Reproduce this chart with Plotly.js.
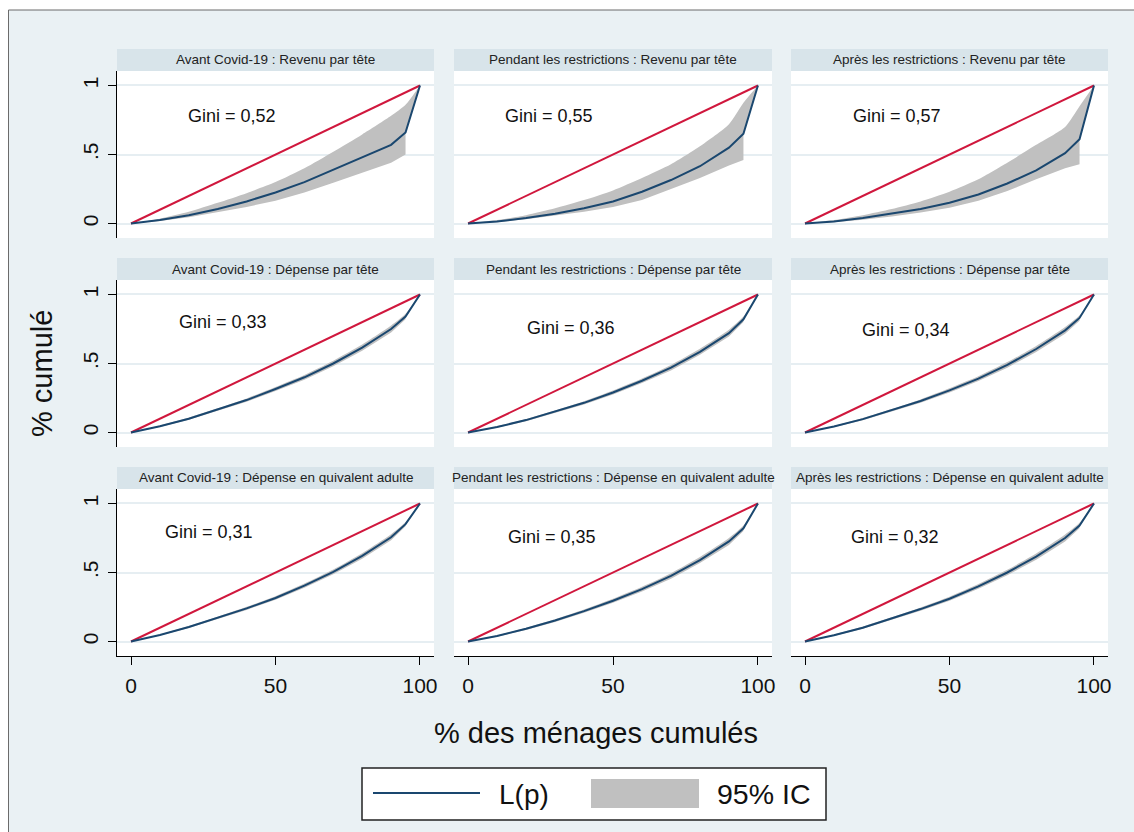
<!DOCTYPE html>
<html><head><meta charset="utf-8">
<script src="https://cdn.plot.ly/plotly-3.0.1.min.js"></script>
<style>html,body{margin:0;padding:0;background:#fff}#chart{width:1134px;height:832px}</style>
</head><body><div id="chart"></div>
<script>
// ---------- DATA ----------
const pctMenages = [0,10,20,30,40,50,60,70,80,90,95,100];
const pctMenagesBas = [0,10,20,30,40,50,60,70,80,90,95];
const egaliteX = [0,100];
const egaliteY = [0,1];

const panelTitles = [
  "Avant Covid-19 : Revenu par tête",
  "Pendant les restrictions : Revenu par tête",
  "Après les restrictions : Revenu par tête",
  "Avant Covid-19 : Dépense par tête",
  "Pendant les restrictions : Dépense par tête",
  "Après les restrictions : Dépense par tête",
  "Avant Covid-19 : Dépense en quivalent adulte",
  "Pendant les restrictions : Dépense en quivalent adulte",
  "Après les restrictions : Dépense en quivalent adulte"
];
const giniLabels = ["Gini = 0,52","Gini = 0,55","Gini = 0,57","Gini = 0,33","Gini = 0,36","Gini = 0,34","Gini = 0,31","Gini = 0,35","Gini = 0,32"];

// Lorenz curves L(p)
const lorenzAvantRevenu    = [0,0.025,0.06,0.105,0.16,0.225,0.30,0.39,0.48,0.57,0.66,1];
const lorenzPendantRevenu  = [0,0.015,0.04,0.07,0.11,0.16,0.23,0.315,0.415,0.55,0.65,1];
const lorenzApresRevenu    = [0,0.015,0.04,0.07,0.105,0.15,0.21,0.29,0.385,0.51,0.61,1];
const lorenzAvantDepTete   = [0,0.045,0.10,0.165,0.235,0.315,0.40,0.50,0.615,0.75,0.84,1];
const lorenzPendantDepTete = [0,0.04,0.09,0.15,0.215,0.29,0.375,0.47,0.585,0.72,0.82,1];
const lorenzApresDepTete   = [0,0.043,0.097,0.16,0.228,0.305,0.39,0.49,0.605,0.74,0.83,1];
const lorenzAvantDepAE     = [0,0.047,0.105,0.17,0.24,0.315,0.405,0.505,0.62,0.755,0.85,1];
const lorenzPendantDepAE   = [0,0.04,0.092,0.152,0.22,0.295,0.38,0.475,0.59,0.725,0.82,1];
const lorenzApresDepAE     = [0,0.045,0.10,0.165,0.235,0.31,0.40,0.50,0.615,0.75,0.84,1];

// 95% CI upper bounds
const icHautAvantRevenu    = [0,0.035,0.085,0.15,0.22,0.30,0.40,0.52,0.645,0.78,0.86,1];
const icHautPendantRevenu  = [0,0.025,0.06,0.11,0.17,0.24,0.33,0.43,0.56,0.72,0.875,1];
const icHautApresRevenu    = [0,0.025,0.06,0.105,0.16,0.23,0.32,0.44,0.57,0.70,0.85,1];
const icHautAvantDepTete   = [0,0.05,0.108,0.175,0.247,0.33,0.417,0.52,0.637,0.775,0.86,1];
const icHautPendantDepTete = [0,0.045,0.098,0.16,0.227,0.305,0.392,0.49,0.607,0.745,0.84,1];
const icHautApresDepTete   = [0,0.048,0.105,0.17,0.24,0.32,0.407,0.51,0.627,0.765,0.85,1];
const icHautAvantDepAE     = [0,0.051,0.112,0.179,0.251,0.328,0.42,0.522,0.64,0.777,0.865,1];
const icHautPendantDepAE   = [0,0.045,0.10,0.162,0.232,0.31,0.397,0.495,0.612,0.75,0.84,1];
const icHautApresDepAE     = [0,0.05,0.108,0.175,0.247,0.325,0.417,0.52,0.637,0.775,0.86,1];

// 95% CI lower bounds (up to p = 95)
const icBasAvantRevenu     = [0,0.018,0.045,0.08,0.12,0.165,0.225,0.295,0.365,0.44,0.50];
const icBasPendantRevenu   = [0,0.01,0.03,0.055,0.085,0.12,0.17,0.25,0.33,0.42,0.46];
const icBasApresRevenu     = [0,0.01,0.028,0.05,0.08,0.115,0.165,0.235,0.32,0.40,0.43];
const icBasAvantDepTete    = [0,0.04,0.092,0.155,0.223,0.30,0.383,0.48,0.593,0.725,0.82];
const icBasPendantDepTete  = [0,0.035,0.082,0.14,0.203,0.275,0.358,0.45,0.563,0.695,0.80];
const icBasApresDepTete    = [0,0.038,0.089,0.15,0.216,0.29,0.373,0.47,0.583,0.715,0.81];
const icBasAvantDepAE      = [0,0.043,0.098,0.161,0.229,0.302,0.39,0.488,0.60,0.733,0.835];
const icBasPendantDepAE    = [0,0.035,0.084,0.142,0.208,0.28,0.363,0.455,0.568,0.70,0.80];
const icBasApresDepAE      = [0,0.04,0.092,0.155,0.223,0.295,0.383,0.48,0.593,0.725,0.82];

const xTickVals = [0,50,100], xTickText = ["0","50","100"];
const yTickVals = [0,0.5,1],  yTickText = ["0",".5","1"];

// ---------- ASSEMBLY ----------
const lorenzAll = [lorenzAvantRevenu,lorenzPendantRevenu,lorenzApresRevenu,lorenzAvantDepTete,lorenzPendantDepTete,lorenzApresDepTete,lorenzAvantDepAE,lorenzPendantDepAE,lorenzApresDepAE];
const icHautAll = [icHautAvantRevenu,icHautPendantRevenu,icHautApresRevenu,icHautAvantDepTete,icHautPendantDepTete,icHautApresDepTete,icHautAvantDepAE,icHautPendantDepAE,icHautApresDepAE];
const icBasAll  = [icBasAvantRevenu,icBasPendantRevenu,icBasApresRevenu,icBasAvantDepTete,icBasPendantDepTete,icBasApresDepTete,icBasAvantDepAE,icBasPendantDepAE,icBasApresDepAE];

const W = 1134, H = 832;
const px = x => x / W, py = y => 1 - y / H;
const colLeft = [117,454,791], colRight = [434,772,1108];
const rowTop = [71,280,489], rowBottom = [238,447,656], stripTop = [49,258,467];
const giniPos = [[35,0.78],[28,0.78],[32,0.78],[32,0.80],[35.5,0.76],[35,0.74],[27,0.79],[29,0.76],[31,0.76]];

const FONT = "Liberation Sans, Arial, sans-serif";
const NAVY = "#1a476f", RED = "#d0173d", GREY = "#c0c0c0", BG = "#eaf1f4", STRIP = "#d8e4ea", GRID = "#e6eef2";

const traces = [], shapes = [], annotations = [];
const layout = {
  width: W, height: H, margin: {l:0,r:0,t:0,b:0},
  paper_bgcolor: BG, plot_bgcolor: "#ffffff", showlegend: false,
  font: {family: FONT, color: "#111"}
};

for (let i = 0; i < 9; i++) {
  const r = Math.floor(i / 3), c = i % 3, k = i + 1;
  const xa = "x" + k, ya = "y" + k;
  const lorenz = lorenzAll[i];
  // lower-band path : CI lower bound, then follow L(p) from 95 to 100
  const basX = pctMenagesBas.concat([pctMenages[10], pctMenages[11]]);
  const basY = icBasAll[i].concat([lorenz[10], lorenz[11]]);
  traces.push({x: pctMenages, y: icHautAll[i], xaxis: xa, yaxis: ya, mode: "lines",
    line: {width: 0, color: GREY, shape: "spline", smoothing: 0.6}, hoverinfo: "skip"});
  traces.push({x: basX, y: basY, xaxis: xa, yaxis: ya, mode: "lines", fill: "tonexty",
    fillcolor: GREY, line: {width: 0, color: GREY}, hoverinfo: "skip"});
  traces.push({x: egaliteX, y: egaliteY, xaxis: xa, yaxis: ya, mode: "lines",
    line: {width: 2, color: RED}});
  traces.push({x: pctMenages, y: lorenz, xaxis: xa, yaxis: ya, mode: "lines",
    line: {width: 2, color: NAVY}, name: "L(p)"});

  const xKey = "xaxis" + (k === 1 ? "" : k), yKey = "yaxis" + (k === 1 ? "" : k);
  const bottom = r === 2, left = c === 0;
  layout[xKey] = {
    domain: [px(colLeft[c]), px(colRight[c])], anchor: ya, range: [-4.85, 104.85],
    showgrid: false, zeroline: false, fixedrange: true,
    showline: bottom, linecolor: "#000", linewidth: 1,
    tickvals: xTickVals, ticktext: xTickText, showticklabels: bottom,
    ticks: bottom ? "outside" : "", ticklen: 8, tickcolor: "#000",
    ticklabelstandoff: 3,
    tickfont: {size: 21, family: FONT, color: "#111"}
  };
  layout[yKey] = {
    domain: [py(rowBottom[r]), py(rowTop[r])], anchor: xa, range: [-0.105, 1.105],
    showgrid: true, gridcolor: GRID, gridwidth: 2, zeroline: false, fixedrange: true,
    showline: left, linecolor: "#000", linewidth: 1,
    tickvals: yTickVals, ticktext: yTickText, showticklabels: left,
    ticks: left ? "outside" : "", ticklen: 8, tickcolor: "#000", tickangle: -90,
    ticklabelstandoff: 2,
    tickfont: {size: 21, family: FONT, color: "#111"}
  };
  // strip header
  shapes.push({type: "rect", xref: "paper", yref: "paper", layer: "below",
    x0: px(colLeft[c]), x1: px(colRight[c]), y0: py(rowTop[r]), y1: py(stripTop[r]),
    fillcolor: STRIP, line: {width: 0}});
  annotations.push({xref: "paper", yref: "paper", x: px((colLeft[c] + colRight[c]) / 2),
    y: py((stripTop[r] + rowTop[r]) / 2), text: panelTitles[i], showarrow: false,
    xanchor: "center", yanchor: "middle", font: {size: 13.5, family: FONT, color: "#222"}});
  annotations.push({xref: xa, yref: ya, x: giniPos[i][0], y: giniPos[i][1], text: giniLabels[i],
    showarrow: false, xanchor: "center", yanchor: "middle", font: {size: 18, family: FONT, color: "#111"}});
}

// outer frame
shapes.push({type: "rect", xref: "paper", yref: "paper", layer: "below",
  x0: px(0), x1: px(8.5), y0: 0, y1: 1, fillcolor: "#fff", line: {width: 0}});
shapes.push({type: "rect", xref: "paper", yref: "paper", layer: "below",
  x0: 0, x1: 1, y0: py(10), y1: 1, fillcolor: "#fff", line: {width: 0}});
shapes.push({type: "rect", xref: "paper", yref: "paper", layer: "below",
  x0: px(8.5), x1: px(1150), y0: py(850), y1: py(10), line: {width: 1, color: "#6b6b6b"}});

// global axis titles
annotations.push({xref: "paper", yref: "paper", x: px(596), y: py(733), text: "% des ménages cumulés",
  showarrow: false, xanchor: "center", yanchor: "middle", font: {size: 29, family: FONT, color: "#111"}});
annotations.push({xref: "paper", yref: "paper", x: px(42), y: py(374), text: "% cumulé", textangle: -90,
  showarrow: false, xanchor: "center", yanchor: "middle", font: {size: 29, family: FONT, color: "#111"}});

// legend
shapes.push({type: "rect", xref: "paper", yref: "paper", x0: px(362), x1: px(826), y0: py(820), y1: py(768),
  fillcolor: "#fff", line: {width: 1.5, color: "#222"}});
shapes.push({type: "line", xref: "paper", yref: "paper", x0: px(373), x1: px(480), y0: py(793), y1: py(793),
  line: {width: 2, color: NAVY}});
shapes.push({type: "rect", xref: "paper", yref: "paper", x0: px(591), x1: px(699), y0: py(808), y1: py(779),
  fillcolor: GREY, line: {width: 0}});
annotations.push({xref: "paper", yref: "paper", x: px(497), y: py(794), text: "L(p)", showarrow: false,
  xanchor: "left", yanchor: "middle", font: {size: 28, family: FONT, color: "#111"}});
annotations.push({xref: "paper", yref: "paper", x: px(715), y: py(794), text: "95% IC", showarrow: false,
  xanchor: "left", yanchor: "middle", font: {size: 28.5, family: FONT, color: "#111"}});

layout.shapes = shapes;
layout.annotations = annotations;

Plotly.newPlot("chart", traces, layout, {staticPlot: true, displayModeBar: false});
</script></body></html>
